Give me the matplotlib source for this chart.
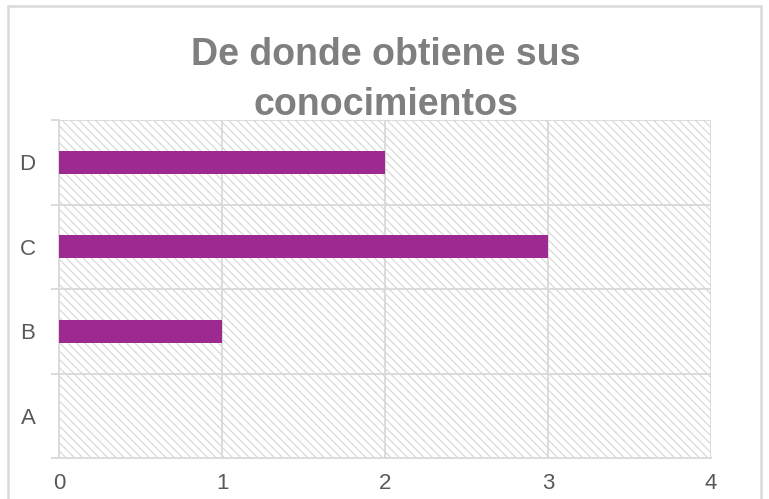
import matplotlib
matplotlib.use("Agg")
import matplotlib.pyplot as plt
from matplotlib.patches import Rectangle

# survey answers
categories = ["A", "B", "C", "D"]
counts = [0, 1, 3, 2]
x_ticks = [0, 1, 2, 3, 4]

title = "De donde obtiene sus\nconocimientos"

grid_col = "#d9d9d9"
bar_col = "#9c2a91"
text_col = "#595959"

plt.rcParams["font.family"] = ["Liberation Sans", "DejaVu Sans"]
plt.rcParams["hatch.color"] = "#d6d6d6"
plt.rcParams["hatch.linewidth"] = 0.8

fig = plt.figure(figsize=(7.69, 4.99), dpi=100)
ax = fig.add_axes([59 / 769, 1 - 458 / 499, 652 / 769, 338 / 499])

# hatched plot background
ax.patch.set_facecolor("white")
ax.patch.set_hatch("\\\\\\\\")
ax.patch.set_edgecolor("#d6d6d6")
ax.patch.set_linewidth(0)

pos = range(len(categories))
ax.barh(pos, counts, height=0.27, color=bar_col, zorder=3)

ax.set_xlim(0, 4)
ax.set_ylim(-0.5, len(categories) - 0.5)
ax.set_xticks(x_ticks)
ax.set_yticks(list(pos))
ax.set_yticklabels(categories)
ax.set_yticks([p - 0.5 for p in range(len(categories) + 1)], minor=True)

ax.grid(axis="x", which="major", color=grid_col, lw=1.3, zorder=1)
ax.grid(axis="y", which="minor", color=grid_col, lw=1.3, zorder=1)
ax.tick_params(axis="y", which="major", length=0, pad=17, labelsize=16, labelcolor=text_col)
ax.tick_params(axis="y", which="minor", length=6, width=1.3, color=grid_col)
ax.tick_params(axis="x", length=0, pad=11, labelsize=16, labelcolor=text_col)

for s in ["top", "right"]:
    ax.spines[s].set_visible(False)
for s in ["left", "bottom"]:
    ax.spines[s].set_color(grid_col)
    ax.spines[s].set_linewidth(1.3)

fig.text(0.502, 1 - 80 / 499, title, ha="center", va="center", fontsize=27,
         fontweight="bold", color="#7f7f7f", linespacing=1.5)

# chart frame
fig.patches.append(Rectangle((8 / 769, -0.2), 753 / 769, 1.2 - 8 / 499 + 0.004,
                             transform=fig.transFigure, fill=False,
                             edgecolor=grid_col, lw=1.8))

fig.savefig("out.png", dpi=100)
